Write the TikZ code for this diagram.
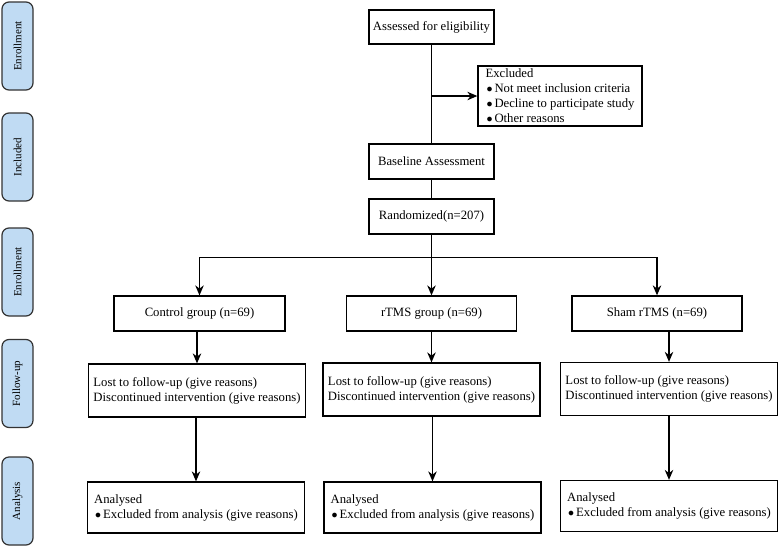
\documentclass[tikz,border=0pt]{standalone}
\usepackage{fontspec}
\setmainfont{Liberation Serif}
\usetikzlibrary{positioning}
\usetikzlibrary{arrows.meta}
\definecolor{stageblue}{RGB}{192,219,243}
\newcommand{\exbullet}{\hspace*{1pt}$\bullet$\hspace{2pt}}

\begin{document}
\begin{tikzpicture}[
    x=1pt, y=-1pt,
    process/.style={rectangle, draw, line width=1.3pt, minimum height=35pt, inner sep=0pt, font=\fontsize{12.7}{15}\selectfont},
    listbox/.style={process, align=left, minimum width=217pt, minimum height=53pt},
    stage/.style={rectangle, rounded corners=7pt, draw=black!80, fill=stageblue, line width=1.2pt, rotate=90, minimum width=88pt, minimum height=31pt, inner sep=0pt, font=\fontsize{11}{13}\selectfont},
    arrow/.style={-{Stealth[length=10pt,width=8.5pt]}, line width=1.3pt}
]
\useasboundingbox (0,0) rectangle (779,547);

% Stages
\node[stage] (enrol1) at (17.5,46) {Enrollment};
\node[stage] (incl) at (17.5,157) {Included};
\node[stage] (enrol2) at (17.5,272) {Enrollment};
\node[stage] (follow) at (17.5,383.5) {Follow-up};
\node[stage] (analysis) at (17.5,501) {Analysis};

% Nodes
\node[process, minimum width=125pt, minimum height=34pt] (assess) at (431.5,27) {Assessed for eligibility};
\node[process, align=left, minimum width=164pt, minimum height=60pt] (excl) at (560,96)
    {Excluded\\\exbullet Not meet inclusion criteria\\\exbullet Decline to participate study\\\exbullet Other reasons};
\node[process, minimum width=125pt] (base) at (431.5,161.5) {Baseline Assessment};
\node[process, minimum width=125pt] (rand) at (431.5,216.5) {Randomized(n=207)};
\node[process, minimum width=171pt] (ctrl) at (199.5,313.5) {Control group (n=69)};
\node[process, minimum width=170pt] (rtms) at (431.5,313.5) {rTMS group (n=69)};
\node[process, minimum width=170pt] (sham) at (657,313.5) {Sham rTMS (n=69)};
\node[listbox] (fu1) at (197,390.5) {Lost to follow-up (give reasons)\\Discontinued intervention (give reasons)};
\node[listbox] (fu2) at (431.5,389.5) {Lost to follow-up (give reasons)\\Discontinued intervention (give reasons)};
\node[listbox] (fu3) at (669,389) {Lost to follow-up (give reasons)\\Discontinued intervention (give reasons)};
\node[listbox, minimum height=51pt] (an1) at (196,507.5) {Analysed\\\exbullet Excluded from analysis (give reasons)};
\node[listbox, minimum height=51pt] (an2) at (432.5,507.5) {Analysed\\\exbullet Excluded from analysis (give reasons)};
\node[listbox, minimum height=51pt] (an3) at (669,506) {Analysed\\\exbullet Excluded from analysis (give reasons)};

% Paths
\draw[line width=1.3pt] (assess) -- (base);
\draw[arrow] (assess.south |- excl.west) -- (excl.west);
\draw[line width=1.3pt] (base) -- (rand);
\draw[arrow] (rand.south) -- ++(0,22.5) -| (ctrl.north);
\draw[arrow] (rand.south) -- ++(0,22.5) -| (sham.north);
\draw[arrow] (rand) -- (rtms);
\draw[arrow] (fu1.north |- ctrl.south) -- (fu1.north);
\draw[arrow] (rtms) -- (fu2);
\draw[arrow] (fu3.north |- sham.south) -- (fu3.north);
\draw[arrow] (an1.north |- fu1.south) -- (an1.north);
\draw[arrow] (an2.north |- fu2.south) -- (an2.north);
\draw[arrow] (an3.north |- fu3.south) -- (an3.north);

\end{tikzpicture}
\end{document}
